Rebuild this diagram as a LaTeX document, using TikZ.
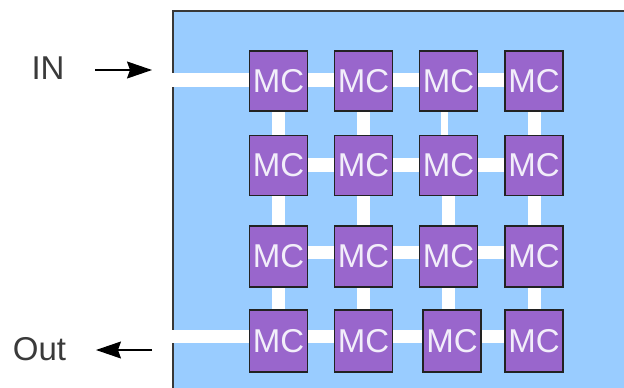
\documentclass[tikz,border=0pt]{standalone}
\usepackage{fontspec}
\setmainfont{Liberation Sans}
\usetikzlibrary{arrows.meta}
\pgfdeclarelayer{bgzero}
\pgfdeclarelayer{bgone}
\pgfsetlayers{bgzero,bgone,main}
\definecolor{chipblue}{HTML}{99CCFF}
\definecolor{mcpurple}{HTML}{9966CC}
\definecolor{edgedark}{HTML}{222222}
\definecolor{labelgrey}{HTML}{3A3A3A}
\definecolor{mctext}{HTML}{F2EEFA}
\begin{document}
\begin{tikzpicture}[x=1pt,y=-1pt,
  mcbox/.style={draw=edgedark,line width=1.4pt,fill=mcpurple,minimum width=58pt,minimum height=60pt,inner sep=0pt,text=mctext,font=\fontsize{33}{33}\selectfont},
  hchan/.style={white,line width=14pt},
  vchan/.style={white,line width=13pt},
  iolabel/.style={text=labelgrey,font=\fontsize{33}{33}\selectfont,inner sep=0pt},
  ioarrow/.style={line width=1.2pt,-{Stealth[length=25pt,width=17pt,inset=3pt]}}]
\useasboundingbox (0,0) rectangle (624,388);
\clip (0,0) rectangle (624,388);
% MC nodes
\node[mcbox] (m11) at (278.5,81) {MC};
\node[mcbox] (m12) at (363.5,81) {MC};
\node[mcbox] (m13) at (448.5,81) {MC};
\node[mcbox] (m14) at (534,81) {MC};
\node[mcbox] (m21) at (278.5,165.5) {MC};
\node[mcbox] (m22) at (363.5,165.5) {MC};
\node[mcbox] (m23) at (448.5,165.5) {MC};
\node[mcbox] (m24) at (534,165.5) {MC};
\node[mcbox,minimum height=61pt] (m31) at (278.5,256.5) {MC};
\node[mcbox,minimum height=61pt] (m32) at (363.5,256.5) {MC};
\node[mcbox,minimum height=61pt] (m33) at (448.5,256.5) {MC};
\node[mcbox,minimum height=61pt] (m34) at (534,256.5) {MC};
\node[mcbox,minimum height=62pt] (m41) at (278.5,341) {MC};
\node[mcbox,minimum height=62pt] (m42) at (363.5,341) {MC};
\node[mcbox,minimum height=62pt] (m43) at (452,341) {MC};
\node[mcbox,minimum height=62pt] (m44) at (534,341) {MC};
% labels and arrows
\node[iolabel] (inlabel) at (48,68) {IN};
\node[iolabel] (outlabel) at (39.5,349) {Out};
\coordinate (inarrowstart) at (95,70);
\coordinate (inarrowend) at (152,70);
\coordinate (outarrowstart) at (152,350);
\coordinate (outarrowend) at (96,350);
\draw[ioarrow] (inarrowstart) -- (inarrowend);
\draw[ioarrow] (outarrowstart) -- (outarrowend);
\coordinate (inport) at (171,80);
\coordinate (outport) at (171,336.5);
% chip background
\begin{pgfonlayer}{bgzero}
\draw[draw=edgedark!90,line width=1.5pt,fill=chipblue] (173,11) rectangle (650,420);
\end{pgfonlayer}
% channels
\begin{pgfonlayer}{bgone}
\draw[hchan] (inport) -- (inport -| m11.west);
\draw[hchan,line width=13pt] (outport) -- (outport -| m41.west);
\draw[hchan] ([yshift=1pt]m11.east) -- ([yshift=1pt]m12.west);
\draw[hchan] ([yshift=1pt]m12.east) -- ([yshift=1pt]m13.west);
\draw[hchan] ([yshift=1pt]m13.east) -- ([yshift=1pt]m14.west);
\draw[hchan] ([yshift=1pt]m21.east) -- ([yshift=1pt]m22.west);
\draw[hchan] ([yshift=1pt]m22.east) -- ([yshift=1pt]m23.west);
\draw[hchan] ([yshift=1pt]m23.east) -- ([yshift=1pt]m24.west);
\draw[hchan,line width=13pt] ([yshift=4pt]m31.east) -- ([yshift=4pt]m32.west);
\draw[hchan,line width=13pt] ([yshift=4pt]m32.east) -- ([yshift=4pt]m33.west);
\draw[hchan,line width=13pt] ([yshift=4pt]m33.east) -- ([yshift=4pt]m34.west);
\draw[hchan,line width=13pt] ([yshift=4.5pt]m41.east) -- ([yshift=4.5pt]m42.west);
\draw[hchan,line width=13pt] ([yshift=4.5pt]m42.east) -- ([yshift=4.5pt]m43.west);
\draw[hchan,line width=13pt] ([yshift=4.5pt]m43.east) -- ([yshift=4.5pt]m44.west);
\draw[vchan] (m11) -- (m21);
\draw[vchan] (m21) -- (m31);
\draw[vchan] (m31) -- (m41);
\draw[vchan] (m12) -- (m22);
\draw[vchan] (m22) -- (m32);
\draw[vchan] (m32) -- (m42);
\draw[vchan,line width=7pt] ([xshift=-4pt]m13.south) -- ([xshift=-4pt]m23.north);
\draw[vchan] (m23) -- (m33);
\draw[vchan] (m33) -- (m43.north -| m33);
\draw[vchan] (m14) -- (m24);
\draw[vchan] (m24) -- (m34);
\draw[vchan] (m34) -- (m44);
\end{pgfonlayer}
\end{tikzpicture}
\end{document}
